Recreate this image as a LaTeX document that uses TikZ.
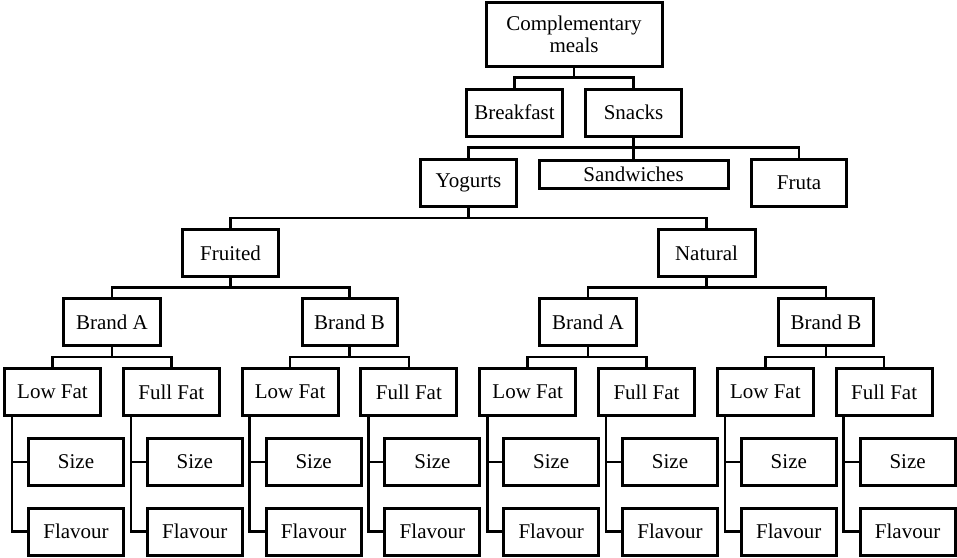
\documentclass[tikz,border=0pt]{standalone}
\usepackage{fontspec}
\setmainfont{Liberation Serif}
\newfontfamily\boxfont{Liberation Serif}
\usetikzlibrary{calc}
\begin{document}
\begin{tikzpicture}[x=1pt,y=-1pt,
  box/.style={draw, line width=3pt, inner sep=0pt, minimum height=47pt,
    align=center, font=\boxfont\fontsize{21}{22}\selectfont},
  link/.style={draw, line width=2.6pt}]
\useasboundingbox (0,0) rectangle (957,557);

% upper levels
\node[box, minimum width=176pt, minimum height=64pt] (cm) at (574,34.5) {Complementary\\meals};
\node[box, minimum width=96pt] (bf) at (514.5,112.5) {Breakfast};
\node[box, minimum width=96pt] (sn) at (633.5,112.5) {Snacks};
\node[box, minimum width=96pt] (yo) at (468.5,183) {Yogurts};
\node[box, minimum width=189pt, minimum height=28pt] (sw) at (633.5,174) {Sandwiches};
\node[box, minimum width=95pt] (fr) at (799,183) {Fruta};
\node[box, minimum width=96pt] (fru) at (230.5,253) {Fruited};
\node[box, minimum width=97pt] (nat) at (706.5,253) {Natural};
\node[box, minimum width=97pt] (b1) at (112,322) {Brand A};
\node[box, minimum width=95pt] (b2) at (349.5,322) {Brand B};
\node[box, minimum width=97pt] (b3) at (588,322) {Brand A};
\node[box, minimum width=95pt] (b4) at (826,322) {Brand B};

% fat content, size and flavour leaves
\foreach \i/\t in {1/Low Fat,2/Full Fat,3/Low Fat,4/Full Fat,5/Low Fat,6/Full Fat,7/Low Fat,8/Full Fat} {
  \pgfmathsetmacro\L{3+118.8*(\i-1)}
  \node[box, minimum width=96pt] (fat\i) at (\L+49.5,392) {\t};
  \node[box, minimum width=95pt] (size\i) at (\L+73,462) {Size};
  \node[box, minimum width=95pt] (flav\i) at (\L+73,531.5) {Flavour};
}

% parent-child elbow connectors
\foreach \p/\c in {cm/bf, cm/sn, sn/yo, sn/fr, yo/fru, yo/nat, fru/b1, fru/b2,
    nat/b3, nat/b4, b1/fat1, b1/fat2, b2/fat3, b2/fat4, b3/fat5, b3/fat6, b4/fat7, b4/fat8}
  \draw[link] (\p.south) |- ($(\p.south)!.5!(\c.north)$) -| (\c.north);
\draw[link] (sn.south) -- (sw.north);

% side rails to size and flavour
\foreach \i in {1,...,8} {
  \coordinate (v\i) at ($(fat\i.south west)+(9,0)$);
  \draw[link] (v\i) |- (flav\i.west);
  \draw[link] (size\i.west) -- (size\i.west -| v\i);
}
\end{tikzpicture}
\end{document}
